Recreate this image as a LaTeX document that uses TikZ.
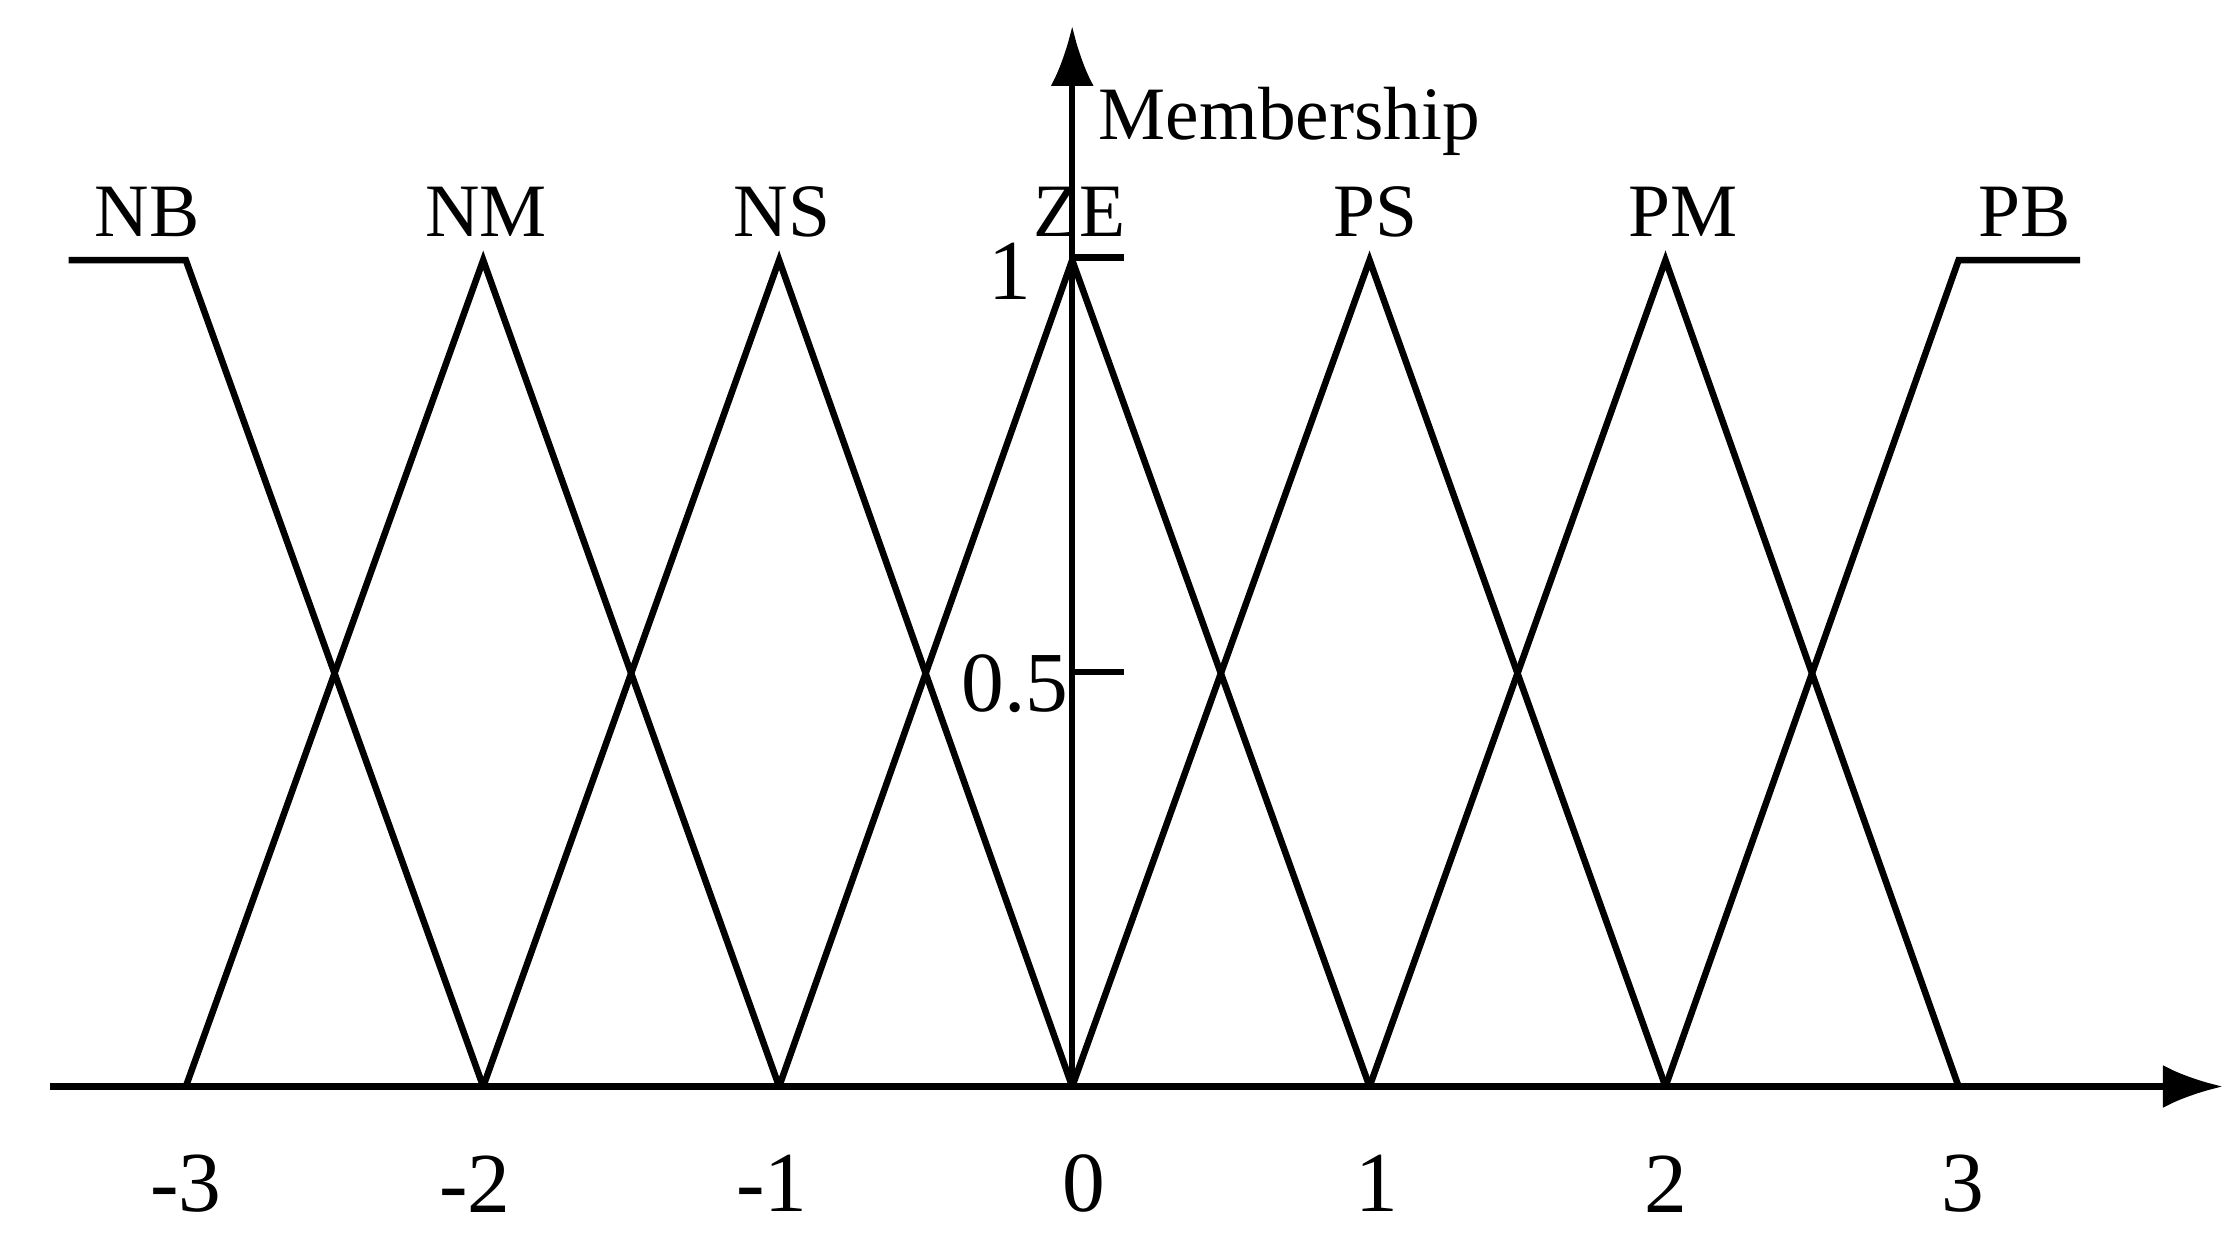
\documentclass[tikz,border=0pt]{standalone}
\usepackage{fontspec}
\setmainfont{Liberation Serif}
\usetikzlibrary{arrows.meta}
\begin{document}
\begin{tikzpicture}[x=0.01cm,y=-0.01cm,
  ln/.style={line width=1.3pt,line join=miter},
  lab/.style={font=\fontsize{15}{15}\selectfont,inner sep=0pt},
  num/.style={font=\fontsize{17}{17}\selectfont,inner sep=0pt}]
\useasboundingbox (0,0) rectangle (1555,878);
% axes
\coordinate (xs) at (35,760); \coordinate (xe) at (1555,760);
\coordinate (ys) at (750,760); \coordinate (ye) at (750,18);
\draw[ln,-{Latex[length=0.42cm,width=0.3cm]}] (xs) -- (xe);
\draw[ln,-{Latex[length=0.42cm,width=0.3cm]}] (ys) -- (ye);
% ticks
\coordinate (t1a) at (750,180); \coordinate (t1b) at (786,180);
\coordinate (t5a) at (750,470); \coordinate (t5b) at (786,470);
\draw[ln] (t1a) -- (t1b); \draw[ln] (t5a) -- (t5b);
% membership functions
\draw[ln] (48,182) -- (130,182) -- (338,760);
\draw[ln] (130,760) -- (338,182) -- (545,760);
\draw[ln] (338,760) -- (545,182) -- (750,760);
\draw[ln] (545,760) -- (750,182) -- (958,760);
\draw[ln] (750,760) -- (958,182) -- (1165,760);
\draw[ln] (958,760) -- (1165,182) -- (1370,760);
\draw[ln] (1165,760) -- (1370,182) -- (1455,182);
% labels
\node[lab,anchor=west] (mem) at (768,85) {Membership};
\node[lab] (nb) at (103,148) {NB};
\node[lab] (nm) at (340,148) {NM};
\node[lab] (ns) at (547,148) {NS};
\node[lab] (ze) at (755,148) {ZE};
\node[lab] (ps) at (962,148) {PS};
\node[lab] (pm) at (1177,148) {PM};
\node[lab] (pb) at (1416,148) {PB};
\node[num,anchor=east] (one) at (722,190) {1};
\node[num,anchor=east] (half) at (748,478) {0.5};
\node[num] (m3) at (130,828) {-3};
\node[num] (m2) at (332,828) {-2};
\node[num] (m1) at (540,828) {-1};
\node[num] (z0) at (758,828) {0};
\node[num] (p1) at (963,828) {1};
\node[num] (p2) at (1165,828) {2};
\node[num] (p3) at (1373,828) {3};
\end{tikzpicture}
\end{document}
